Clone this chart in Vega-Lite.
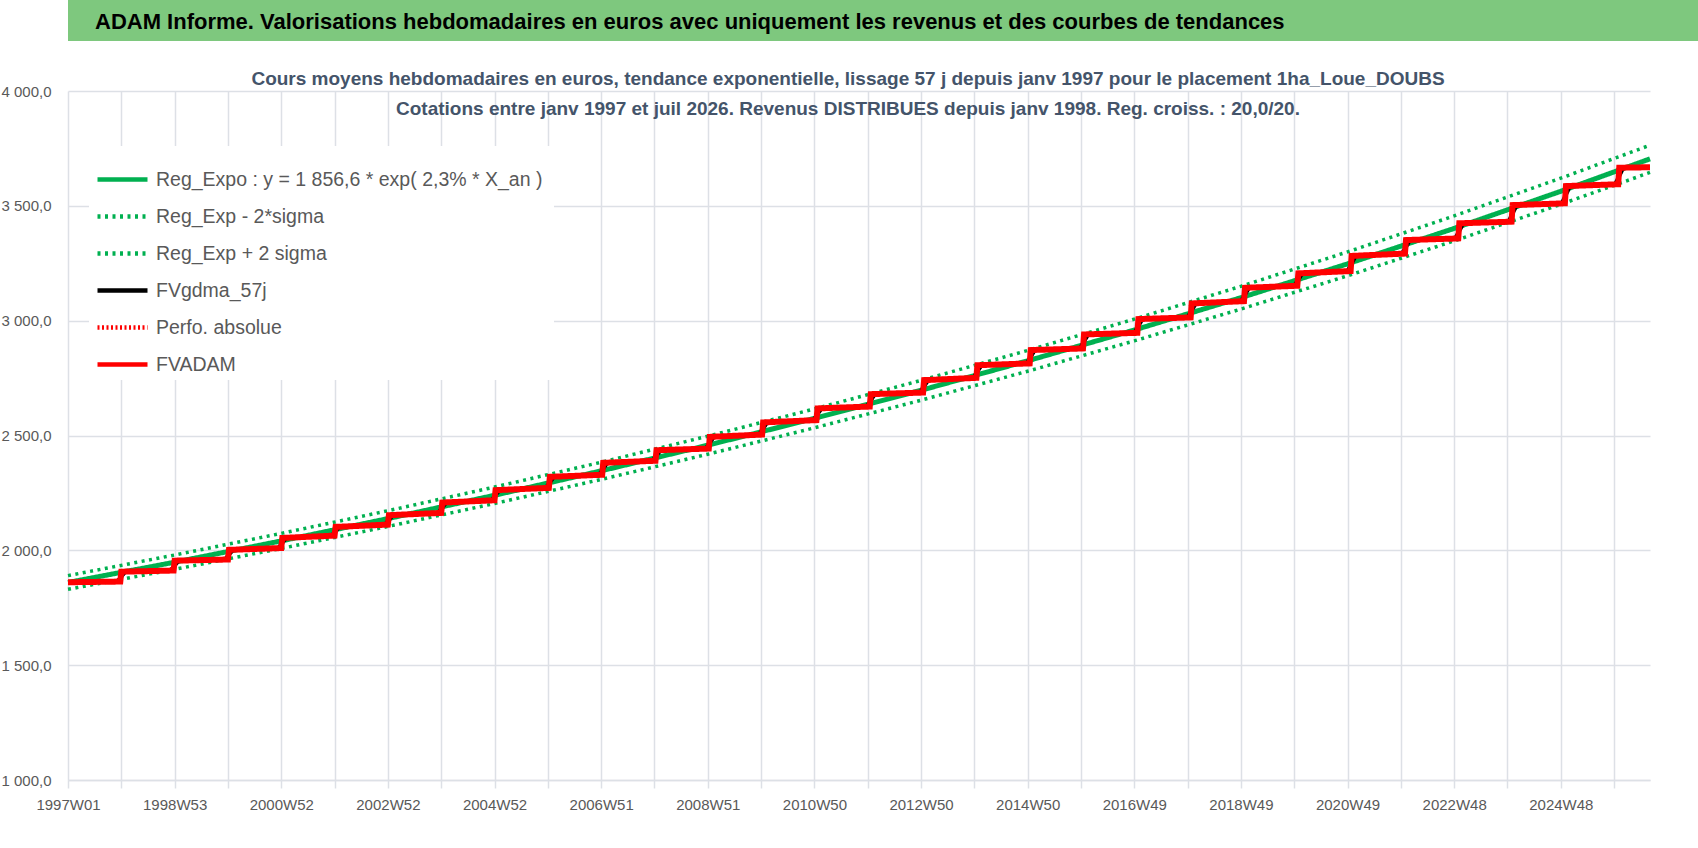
{
  "$schema": "https://vega.github.io/schema/vega-lite/v6.json",
  "padding": 0,
  "background": "white",
  "spacing": 29,
  "config": {
    "view": {"stroke": null},
    "font": "Liberation Sans, Arial, sans-serif"
  },
  "vconcat": [
    {
      "width": 1698,
      "height": 41,
      "view": {"fill": "#7EC87E", "stroke": null},
      "data": {"values": [{"titre": "ADAM Informe. Valorisations hebdomadaires en euros avec uniquement les revenus et des courbes de tendances"}]},
      "mark": {"type": "text", "align": "left", "baseline": "middle", "dx": -822, "dy": 1, "fontSize": 22, "fontWeight": "bold", "color": "#000000"},
      "encoding": {"text": {"field": "titre", "type": "nominal"}}
    },
    {
      "vconcat": [
        {
          "width": 1582,
          "height": 689,
          "title": {
            "text": [
              "Cours moyens hebdomadaires en euros, tendance exponentielle, lissage 57 j depuis janv 1997 pour le placement 1ha_Loue_DOUBS",
              "Cotations entre janv 1997 et juil 2026. Revenus DISTRIBUES depuis janv 1998. Reg. croiss. : 20,0/20."
            ],
            "anchor": "middle",
            "dx": -11,
            "offset": -34.5,
            "fontSize": 19,
            "fontWeight": "bold",
            "color": "#44546A",
            "lineHeight": 29.5
          },
          "data": {"values": [
            {"s": "Reg_Expo", "t": 0, "v": 1860.0}, {"s": "Reg_Expo", "t": 104, "v": 1948.4}, {"s": "Reg_Expo", "t": 208, "v": 2041.0}, {"s": "Reg_Expo", "t": 312, "v": 2138.1},
            {"s": "Reg_Expo", "t": 416, "v": 2239.7}, {"s": "Reg_Expo", "t": 520, "v": 2346.1}, {"s": "Reg_Expo", "t": 624, "v": 2457.7}, {"s": "Reg_Expo", "t": 728, "v": 2574.5},
            {"s": "Reg_Expo", "t": 832, "v": 2696.9}, {"s": "Reg_Expo", "t": 936, "v": 2825.1}, {"s": "Reg_Expo", "t": 1040, "v": 2959.3}, {"s": "Reg_Expo", "t": 1144, "v": 3100.0},
            {"s": "Reg_Expo", "t": 1248, "v": 3247.4}, {"s": "Reg_Expo", "t": 1352, "v": 3401.7}, {"s": "Reg_Expo", "t": 1456, "v": 3563.4}, {"s": "Reg_Expo", "t": 1543, "v": 3704.6},
            {"s": "Reg_Exp + 2 sigma", "t": 0, "v": 1889.8}, {"s": "Reg_Exp + 2 sigma", "t": 104, "v": 1979.6}, {"s": "Reg_Exp + 2 sigma", "t": 208, "v": 2073.7}, {"s": "Reg_Exp + 2 sigma", "t": 312, "v": 2172.3},
            {"s": "Reg_Exp + 2 sigma", "t": 416, "v": 2275.5}, {"s": "Reg_Exp + 2 sigma", "t": 520, "v": 2383.6}, {"s": "Reg_Exp + 2 sigma", "t": 624, "v": 2497.0}, {"s": "Reg_Exp + 2 sigma", "t": 728, "v": 2615.7},
            {"s": "Reg_Exp + 2 sigma", "t": 832, "v": 2740.0}, {"s": "Reg_Exp + 2 sigma", "t": 936, "v": 2870.3}, {"s": "Reg_Exp + 2 sigma", "t": 1040, "v": 3006.6}, {"s": "Reg_Exp + 2 sigma", "t": 1144, "v": 3149.6},
            {"s": "Reg_Exp + 2 sigma", "t": 1248, "v": 3299.4}, {"s": "Reg_Exp + 2 sigma", "t": 1352, "v": 3456.1}, {"s": "Reg_Exp + 2 sigma", "t": 1456, "v": 3620.4}, {"s": "Reg_Exp + 2 sigma", "t": 1543, "v": 3763.9},
            {"s": "Reg_Exp - 2*sigma", "t": 0, "v": 1830.2}, {"s": "Reg_Exp - 2*sigma", "t": 104, "v": 1917.2}, {"s": "Reg_Exp - 2*sigma", "t": 208, "v": 2008.3}, {"s": "Reg_Exp - 2*sigma", "t": 312, "v": 2103.9},
            {"s": "Reg_Exp - 2*sigma", "t": 416, "v": 2203.9}, {"s": "Reg_Exp - 2*sigma", "t": 520, "v": 2308.6}, {"s": "Reg_Exp - 2*sigma", "t": 624, "v": 2418.4}, {"s": "Reg_Exp - 2*sigma", "t": 728, "v": 2533.3},
            {"s": "Reg_Exp - 2*sigma", "t": 832, "v": 2653.7}, {"s": "Reg_Exp - 2*sigma", "t": 936, "v": 2779.9}, {"s": "Reg_Exp - 2*sigma", "t": 1040, "v": 2912.0}, {"s": "Reg_Exp - 2*sigma", "t": 1144, "v": 3050.4},
            {"s": "Reg_Exp - 2*sigma", "t": 1248, "v": 3195.4}, {"s": "Reg_Exp - 2*sigma", "t": 1352, "v": 3347.3}, {"s": "Reg_Exp - 2*sigma", "t": 1456, "v": 3506.4}, {"s": "Reg_Exp - 2*sigma", "t": 1543, "v": 3645.3},
            {"s": "FVADAM", "t": 0, "v": 1861}, {"s": "FVADAM", "t": 51, "v": 1864},
            {"s": "FVADAM", "t": 52, "v": 1907}, {"s": "FVADAM", "t": 103, "v": 1912},
            {"s": "FVADAM", "t": 104, "v": 1955}, {"s": "FVADAM", "t": 156, "v": 1960},
            {"s": "FVADAM", "t": 157, "v": 2002}, {"s": "FVADAM", "t": 208, "v": 2010},
            {"s": "FVADAM", "t": 209, "v": 2054}, {"s": "FVADAM", "t": 260, "v": 2064},
            {"s": "FVADAM", "t": 261, "v": 2102}, {"s": "FVADAM", "t": 312, "v": 2112},
            {"s": "FVADAM", "t": 313, "v": 2153}, {"s": "FVADAM", "t": 364, "v": 2163},
            {"s": "FVADAM", "t": 365, "v": 2208}, {"s": "FVADAM", "t": 416, "v": 2218},
            {"s": "FVADAM", "t": 417, "v": 2262}, {"s": "FVADAM", "t": 469, "v": 2272},
            {"s": "FVADAM", "t": 470, "v": 2320}, {"s": "FVADAM", "t": 521, "v": 2329},
            {"s": "FVADAM", "t": 522, "v": 2381}, {"s": "FVADAM", "t": 573, "v": 2390},
            {"s": "FVADAM", "t": 574, "v": 2436}, {"s": "FVADAM", "t": 625, "v": 2443},
            {"s": "FVADAM", "t": 626, "v": 2494}, {"s": "FVADAM", "t": 677, "v": 2504},
            {"s": "FVADAM", "t": 678, "v": 2557}, {"s": "FVADAM", "t": 730, "v": 2567},
            {"s": "FVADAM", "t": 731, "v": 2618}, {"s": "FVADAM", "t": 782, "v": 2626},
            {"s": "FVADAM", "t": 783, "v": 2680}, {"s": "FVADAM", "t": 834, "v": 2687},
            {"s": "FVADAM", "t": 835, "v": 2741}, {"s": "FVADAM", "t": 886, "v": 2751},
            {"s": "FVADAM", "t": 887, "v": 2806}, {"s": "FVADAM", "t": 938, "v": 2814},
            {"s": "FVADAM", "t": 939, "v": 2872}, {"s": "FVADAM", "t": 990, "v": 2879},
            {"s": "FVADAM", "t": 991, "v": 2940}, {"s": "FVADAM", "t": 1043, "v": 2947},
            {"s": "FVADAM", "t": 1044, "v": 3007}, {"s": "FVADAM", "t": 1095, "v": 3014},
            {"s": "FVADAM", "t": 1096, "v": 3075}, {"s": "FVADAM", "t": 1147, "v": 3085},
            {"s": "FVADAM", "t": 1148, "v": 3143}, {"s": "FVADAM", "t": 1199, "v": 3152},
            {"s": "FVADAM", "t": 1200, "v": 3206}, {"s": "FVADAM", "t": 1251, "v": 3216},
            {"s": "FVADAM", "t": 1252, "v": 3282}, {"s": "FVADAM", "t": 1304, "v": 3292},
            {"s": "FVADAM", "t": 1305, "v": 3351}, {"s": "FVADAM", "t": 1356, "v": 3358},
            {"s": "FVADAM", "t": 1357, "v": 3424}, {"s": "FVADAM", "t": 1408, "v": 3431},
            {"s": "FVADAM", "t": 1409, "v": 3503}, {"s": "FVADAM", "t": 1460, "v": 3511},
            {"s": "FVADAM", "t": 1461, "v": 3586}, {"s": "FVADAM", "t": 1512, "v": 3594},
            {"s": "FVADAM", "t": 1513, "v": 3666}, {"s": "FVADAM", "t": 1543, "v": 3668},
            {"s": "Perfo. absolue", "t": 0, "v": 1861}, {"s": "Perfo. absolue", "t": 51, "v": 1864},
            {"s": "Perfo. absolue", "t": 52, "v": 1907}, {"s": "Perfo. absolue", "t": 103, "v": 1912},
            {"s": "Perfo. absolue", "t": 104, "v": 1955}, {"s": "Perfo. absolue", "t": 156, "v": 1960},
            {"s": "Perfo. absolue", "t": 157, "v": 2002}, {"s": "Perfo. absolue", "t": 208, "v": 2010},
            {"s": "Perfo. absolue", "t": 209, "v": 2054}, {"s": "Perfo. absolue", "t": 260, "v": 2064},
            {"s": "Perfo. absolue", "t": 261, "v": 2102}, {"s": "Perfo. absolue", "t": 312, "v": 2112},
            {"s": "Perfo. absolue", "t": 313, "v": 2153}, {"s": "Perfo. absolue", "t": 364, "v": 2163},
            {"s": "Perfo. absolue", "t": 365, "v": 2208}, {"s": "Perfo. absolue", "t": 416, "v": 2218},
            {"s": "Perfo. absolue", "t": 417, "v": 2262}, {"s": "Perfo. absolue", "t": 469, "v": 2272},
            {"s": "Perfo. absolue", "t": 470, "v": 2320}, {"s": "Perfo. absolue", "t": 521, "v": 2329},
            {"s": "Perfo. absolue", "t": 522, "v": 2381}, {"s": "Perfo. absolue", "t": 573, "v": 2390},
            {"s": "Perfo. absolue", "t": 574, "v": 2436}, {"s": "Perfo. absolue", "t": 625, "v": 2443},
            {"s": "Perfo. absolue", "t": 626, "v": 2494}, {"s": "Perfo. absolue", "t": 677, "v": 2504},
            {"s": "Perfo. absolue", "t": 678, "v": 2557}, {"s": "Perfo. absolue", "t": 730, "v": 2567},
            {"s": "Perfo. absolue", "t": 731, "v": 2618}, {"s": "Perfo. absolue", "t": 782, "v": 2626},
            {"s": "Perfo. absolue", "t": 783, "v": 2680}, {"s": "Perfo. absolue", "t": 834, "v": 2687},
            {"s": "Perfo. absolue", "t": 835, "v": 2741}, {"s": "Perfo. absolue", "t": 886, "v": 2751},
            {"s": "Perfo. absolue", "t": 887, "v": 2806}, {"s": "Perfo. absolue", "t": 938, "v": 2814},
            {"s": "Perfo. absolue", "t": 939, "v": 2872}, {"s": "Perfo. absolue", "t": 990, "v": 2879},
            {"s": "Perfo. absolue", "t": 991, "v": 2940}, {"s": "Perfo. absolue", "t": 1043, "v": 2947},
            {"s": "Perfo. absolue", "t": 1044, "v": 3007}, {"s": "Perfo. absolue", "t": 1095, "v": 3014},
            {"s": "Perfo. absolue", "t": 1096, "v": 3075}, {"s": "Perfo. absolue", "t": 1147, "v": 3085},
            {"s": "Perfo. absolue", "t": 1148, "v": 3143}, {"s": "Perfo. absolue", "t": 1199, "v": 3152},
            {"s": "Perfo. absolue", "t": 1200, "v": 3206}, {"s": "Perfo. absolue", "t": 1251, "v": 3216},
            {"s": "Perfo. absolue", "t": 1252, "v": 3282}, {"s": "Perfo. absolue", "t": 1304, "v": 3292},
            {"s": "Perfo. absolue", "t": 1305, "v": 3351}, {"s": "Perfo. absolue", "t": 1356, "v": 3358},
            {"s": "Perfo. absolue", "t": 1357, "v": 3424}, {"s": "Perfo. absolue", "t": 1408, "v": 3431},
            {"s": "Perfo. absolue", "t": 1409, "v": 3503}, {"s": "Perfo. absolue", "t": 1460, "v": 3511},
            {"s": "Perfo. absolue", "t": 1461, "v": 3586}, {"s": "Perfo. absolue", "t": 1512, "v": 3594},
            {"s": "Perfo. absolue", "t": 1513, "v": 3666}, {"s": "Perfo. absolue", "t": 1543, "v": 3668},
            {"s": "FVgdma_57j", "t": 0, "v": 1861},
            {"s": "FVgdma_57j", "t": 48, "v": 1864}, {"s": "FVgdma_57j", "t": 56, "v": 1907},
            {"s": "FVgdma_57j", "t": 100, "v": 1912}, {"s": "FVgdma_57j", "t": 108, "v": 1955},
            {"s": "FVgdma_57j", "t": 153, "v": 1960}, {"s": "FVgdma_57j", "t": 161, "v": 2002},
            {"s": "FVgdma_57j", "t": 205, "v": 2010}, {"s": "FVgdma_57j", "t": 213, "v": 2054},
            {"s": "FVgdma_57j", "t": 257, "v": 2064}, {"s": "FVgdma_57j", "t": 265, "v": 2102},
            {"s": "FVgdma_57j", "t": 309, "v": 2112}, {"s": "FVgdma_57j", "t": 317, "v": 2153},
            {"s": "FVgdma_57j", "t": 361, "v": 2163}, {"s": "FVgdma_57j", "t": 369, "v": 2208},
            {"s": "FVgdma_57j", "t": 413, "v": 2218}, {"s": "FVgdma_57j", "t": 421, "v": 2262},
            {"s": "FVgdma_57j", "t": 466, "v": 2272}, {"s": "FVgdma_57j", "t": 474, "v": 2320},
            {"s": "FVgdma_57j", "t": 518, "v": 2329}, {"s": "FVgdma_57j", "t": 526, "v": 2381},
            {"s": "FVgdma_57j", "t": 570, "v": 2390}, {"s": "FVgdma_57j", "t": 578, "v": 2436},
            {"s": "FVgdma_57j", "t": 622, "v": 2443}, {"s": "FVgdma_57j", "t": 630, "v": 2494},
            {"s": "FVgdma_57j", "t": 674, "v": 2504}, {"s": "FVgdma_57j", "t": 682, "v": 2557},
            {"s": "FVgdma_57j", "t": 727, "v": 2567}, {"s": "FVgdma_57j", "t": 735, "v": 2618},
            {"s": "FVgdma_57j", "t": 779, "v": 2626}, {"s": "FVgdma_57j", "t": 787, "v": 2680},
            {"s": "FVgdma_57j", "t": 831, "v": 2687}, {"s": "FVgdma_57j", "t": 839, "v": 2741},
            {"s": "FVgdma_57j", "t": 883, "v": 2751}, {"s": "FVgdma_57j", "t": 891, "v": 2806},
            {"s": "FVgdma_57j", "t": 935, "v": 2814}, {"s": "FVgdma_57j", "t": 943, "v": 2872},
            {"s": "FVgdma_57j", "t": 987, "v": 2879}, {"s": "FVgdma_57j", "t": 995, "v": 2940},
            {"s": "FVgdma_57j", "t": 1040, "v": 2947}, {"s": "FVgdma_57j", "t": 1048, "v": 3007},
            {"s": "FVgdma_57j", "t": 1092, "v": 3014}, {"s": "FVgdma_57j", "t": 1100, "v": 3075},
            {"s": "FVgdma_57j", "t": 1144, "v": 3085}, {"s": "FVgdma_57j", "t": 1152, "v": 3143},
            {"s": "FVgdma_57j", "t": 1196, "v": 3152}, {"s": "FVgdma_57j", "t": 1204, "v": 3206},
            {"s": "FVgdma_57j", "t": 1248, "v": 3216}, {"s": "FVgdma_57j", "t": 1256, "v": 3282},
            {"s": "FVgdma_57j", "t": 1301, "v": 3292}, {"s": "FVgdma_57j", "t": 1309, "v": 3351},
            {"s": "FVgdma_57j", "t": 1353, "v": 3358}, {"s": "FVgdma_57j", "t": 1361, "v": 3424},
            {"s": "FVgdma_57j", "t": 1405, "v": 3431}, {"s": "FVgdma_57j", "t": 1413, "v": 3503},
            {"s": "FVgdma_57j", "t": 1457, "v": 3511}, {"s": "FVgdma_57j", "t": 1465, "v": 3586},
            {"s": "FVgdma_57j", "t": 1509, "v": 3594}, {"s": "FVgdma_57j", "t": 1517, "v": 3666},
            {"s": "FVgdma_57j", "t": 1543, "v": 3668}
          ]},
          "encoding": {
            "x": {
              "field": "t", "type": "quantitative",
              "scale": {"domain": [0, 1543], "nice": false, "zero": false},
              "axis": {
                "title": null,
                "values": [0, 52, 104, 156, 208, 260, 312, 364, 416, 468, 520, 572, 624, 676, 728, 780, 832, 884, 936, 988, 1040, 1092, 1144, 1196, 1248, 1300, 1352, 1404, 1456, 1508],
                "labelExpr": "datum.value == 0 ? '1997W01' : datum.value == 104 ? '1998W53' : datum.value == 208 ? '2000W52' : datum.value == 312 ? '2002W52' : datum.value == 416 ? '2004W52' : datum.value == 520 ? '2006W51' : datum.value == 624 ? '2008W51' : datum.value == 728 ? '2010W50' : datum.value == 832 ? '2012W50' : datum.value == 936 ? '2014W50' : datum.value == 1040 ? '2016W49' : datum.value == 1144 ? '2018W49' : datum.value == 1248 ? '2020W49' : datum.value == 1352 ? '2022W48' : datum.value == 1456 ? '2024W48' : ''",
                "grid": true, "gridColor": "#DDE0E6", "gridWidth": 1.5,
                "domainColor": "#DDE0E6", "domainWidth": 1.5,
                "tickColor": "#DDE0E6", "tickSize": 8, "tickWidth": 1.5,
                "labelFontSize": 15, "labelColor": "#595959", "labelPadding": 9,
                "labelFlush": false, "labelOverlap": false, "labelBound": false
              }
            },
            "y": {
              "field": "v", "type": "quantitative",
              "scale": {"domain": [1000, 4000], "nice": false, "zero": false},
              "axis": {
                "title": null,
                "values": [1000, 1500, 2000, 2500, 3000, 3500, 4000],
                "labelExpr": "replace(replace(format(datum.value, ',.1f'), ',', ' '), '.', ',')",
                "grid": true, "gridColor": "#DDE0E6", "gridWidth": 1.5,
                "domain": false, "ticks": false,
                "labelFontSize": 15, "labelColor": "#595959", "labelPadding": 17,
                "minExtent": 67, "maxExtent": 67
              }
            },
            "color": {
              "field": "s", "type": "nominal",
              "scale": {"domain": ["Reg_Expo", "Reg_Exp - 2*sigma", "Reg_Exp + 2 sigma", "FVgdma_57j", "Perfo. absolue", "FVADAM"],
                        "range": ["#00B050", "#00B050", "#00B050", "#000000", "#FF0000", "#FF0000"]},
              "legend": {"orient": "none", "legendX": 21, "legendY": 146, "title": null, "fillColor": "white", "padding": 6,
                         "symbolType": "stroke", "symbolSize": 2500, "symbolStrokeWidth": 4.5, "labelFontSize": 19.5, "labelColor": "#595959",
                         "labelOffset": 6, "rowPadding": -21, "labelLimit": 700,
                         "labelExpr": "datum.label == 'Reg_Expo' ? 'Reg_Expo : y = 1 856,6 * exp( 2,3% *  X_an )' : datum.label"}
            },
            "strokeDash": {
              "field": "s", "type": "nominal",
              "scale": {"domain": ["Reg_Expo", "Reg_Exp - 2*sigma", "Reg_Exp + 2 sigma", "FVgdma_57j", "Perfo. absolue", "FVADAM"],
                        "range": [[1, 0], [3, 4.5], [3, 4.5], [1, 0], [2, 2.5], [1, 0]]},
              "legend": {"orient": "none", "legendX": 21, "legendY": 146, "title": null, "fillColor": "white", "padding": 6,
                         "symbolType": "stroke", "symbolSize": 2500, "symbolStrokeWidth": 4.5, "labelFontSize": 19.5, "labelColor": "#595959",
                         "labelOffset": 6, "rowPadding": -21, "labelLimit": 700,
                         "labelExpr": "datum.label == 'Reg_Expo' ? 'Reg_Expo : y = 1 856,6 * exp( 2,3% *  X_an )' : datum.label"}
            }
          },
          "layer": [
            {"transform": [{"filter": "datum.s == 'Reg_Exp - 2*sigma' || datum.s == 'Reg_Exp + 2 sigma'"}], "mark": {"type": "line", "strokeWidth": 3.5}},
            {"transform": [{"filter": "datum.s == 'Reg_Expo'"}], "mark": {"type": "line", "strokeWidth": 5}},
            {"transform": [{"filter": "datum.s == 'FVgdma_57j'"}], "mark": {"type": "line", "strokeWidth": 4}},
            {"transform": [{"filter": "datum.s == 'Perfo. absolue'"}], "mark": {"type": "line", "strokeWidth": 2}},
            {"transform": [{"filter": "datum.s == 'FVADAM'"}], "mark": {"type": "line", "strokeWidth": 6}}
          ]
        }
      ]
    }
  ]
}
